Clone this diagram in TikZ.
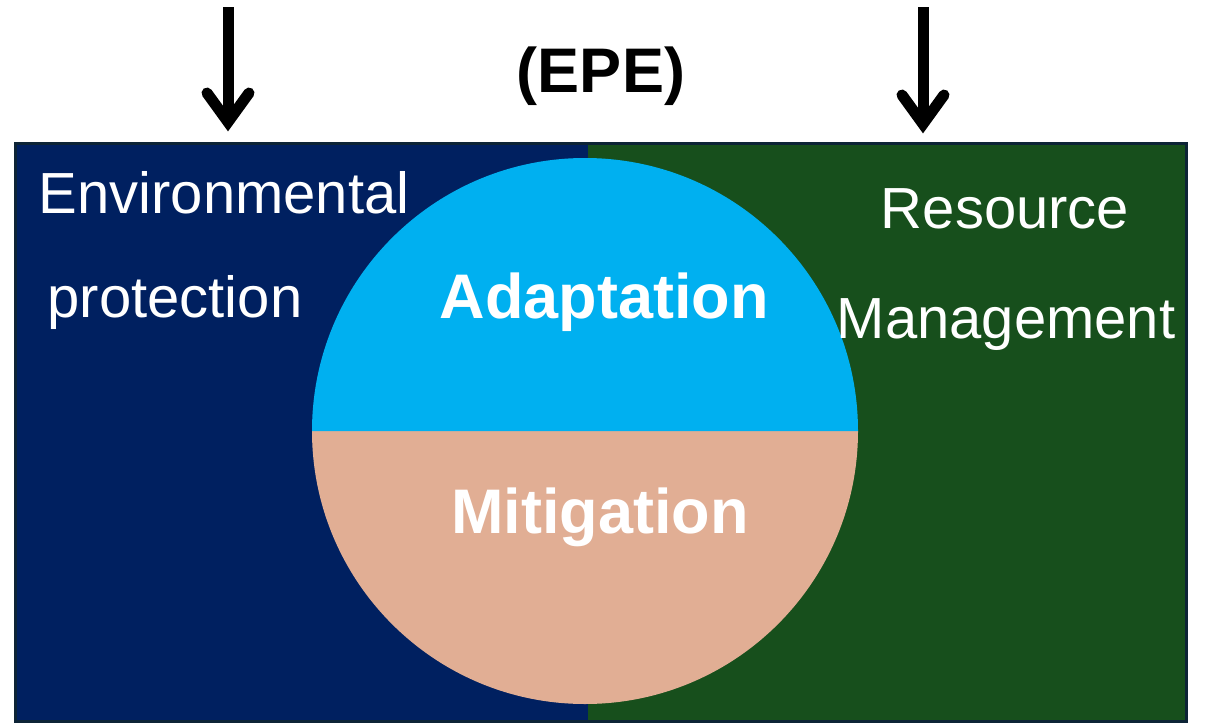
\documentclass[tikz,border=0pt]{standalone}
\usepackage{fontspec}
\setmainfont{Liberation Sans}
\usetikzlibrary{calc}
\definecolor{epeblue}{HTML}{002060}
\definecolor{epegreen}{HTML}{174F1C}
\definecolor{epeedge}{HTML}{0D2436}
\definecolor{adaptcyan}{HTML}{00B0F0}
\definecolor{mitisalmon}{HTML}{E1AE94}

\begin{document}
\begin{tikzpicture}[x=1pt,y=-1pt]
        % Setup the styles
        \tikzset{area style/.style={draw=epeedge, line width=3pt},
                 label style/.style={text=white, anchor=base,
                                     font=\fontsize{58}{60}\selectfont},
                 title style/.style={text=white, anchor=base,
                                     font=\bfseries\fontsize{63}{66}\selectfont},
                 arrow style/.style={line width=11pt, draw=black}}

        \useasboundingbox (0,0) rectangle (1205,723);

        % Draw the two areas
        \fill[epeblue] (15,143) rectangle (588,721);
        \fill[epegreen] (588,143) rectangle (1186,721);
        \draw[area style] (15,143) rectangle (1186,721);

        % Draw the circle
        \coordinate (c) at (585,431);
        \fill[mitisalmon] ($(c)+(-273,0)$) arc[start angle=180, end angle=0, radius=273] -- cycle;
        \fill[adaptcyan] ($(c)+(-273,0)$) arc[start angle=180, end angle=360, radius=273] -- cycle;

        % Draw the labels
        \node[title style, text=black] at (601,92)  (epe)   {(EPE)};
        \node[label style] at (224,213)  (env)   {Environmental};
        \node[label style] at (175,317)  (prot)  {protection};
        \node[label style] at (1005,228) (res)   {Resource};
        \node[label style] at (1006,338) (man)   {Management};
        \node[title style] at (604,318)  (adapt) {Adaptation};
        \node[title style] at (600,533)  (miti)  {Mitigation};

        % Draw the arrows
        \coordinate (l top) at (228,7);
        \coordinate (l tip) at (228,122);
        \coordinate (r top) at (923,7);
        \coordinate (r tip) at (923,124);
        \foreach \t/\b in {l top/l tip, r top/r tip} {
            \draw[arrow style] (\t) -- ($(\b)+(0,-4)$);
            \draw[arrow style, line cap=round, line join=miter]
                ($(\b)+(-21,-29)$) -- (\b) -- ($(\b)+(21,-29)$);
        }
    \end{tikzpicture}
\end{document}
